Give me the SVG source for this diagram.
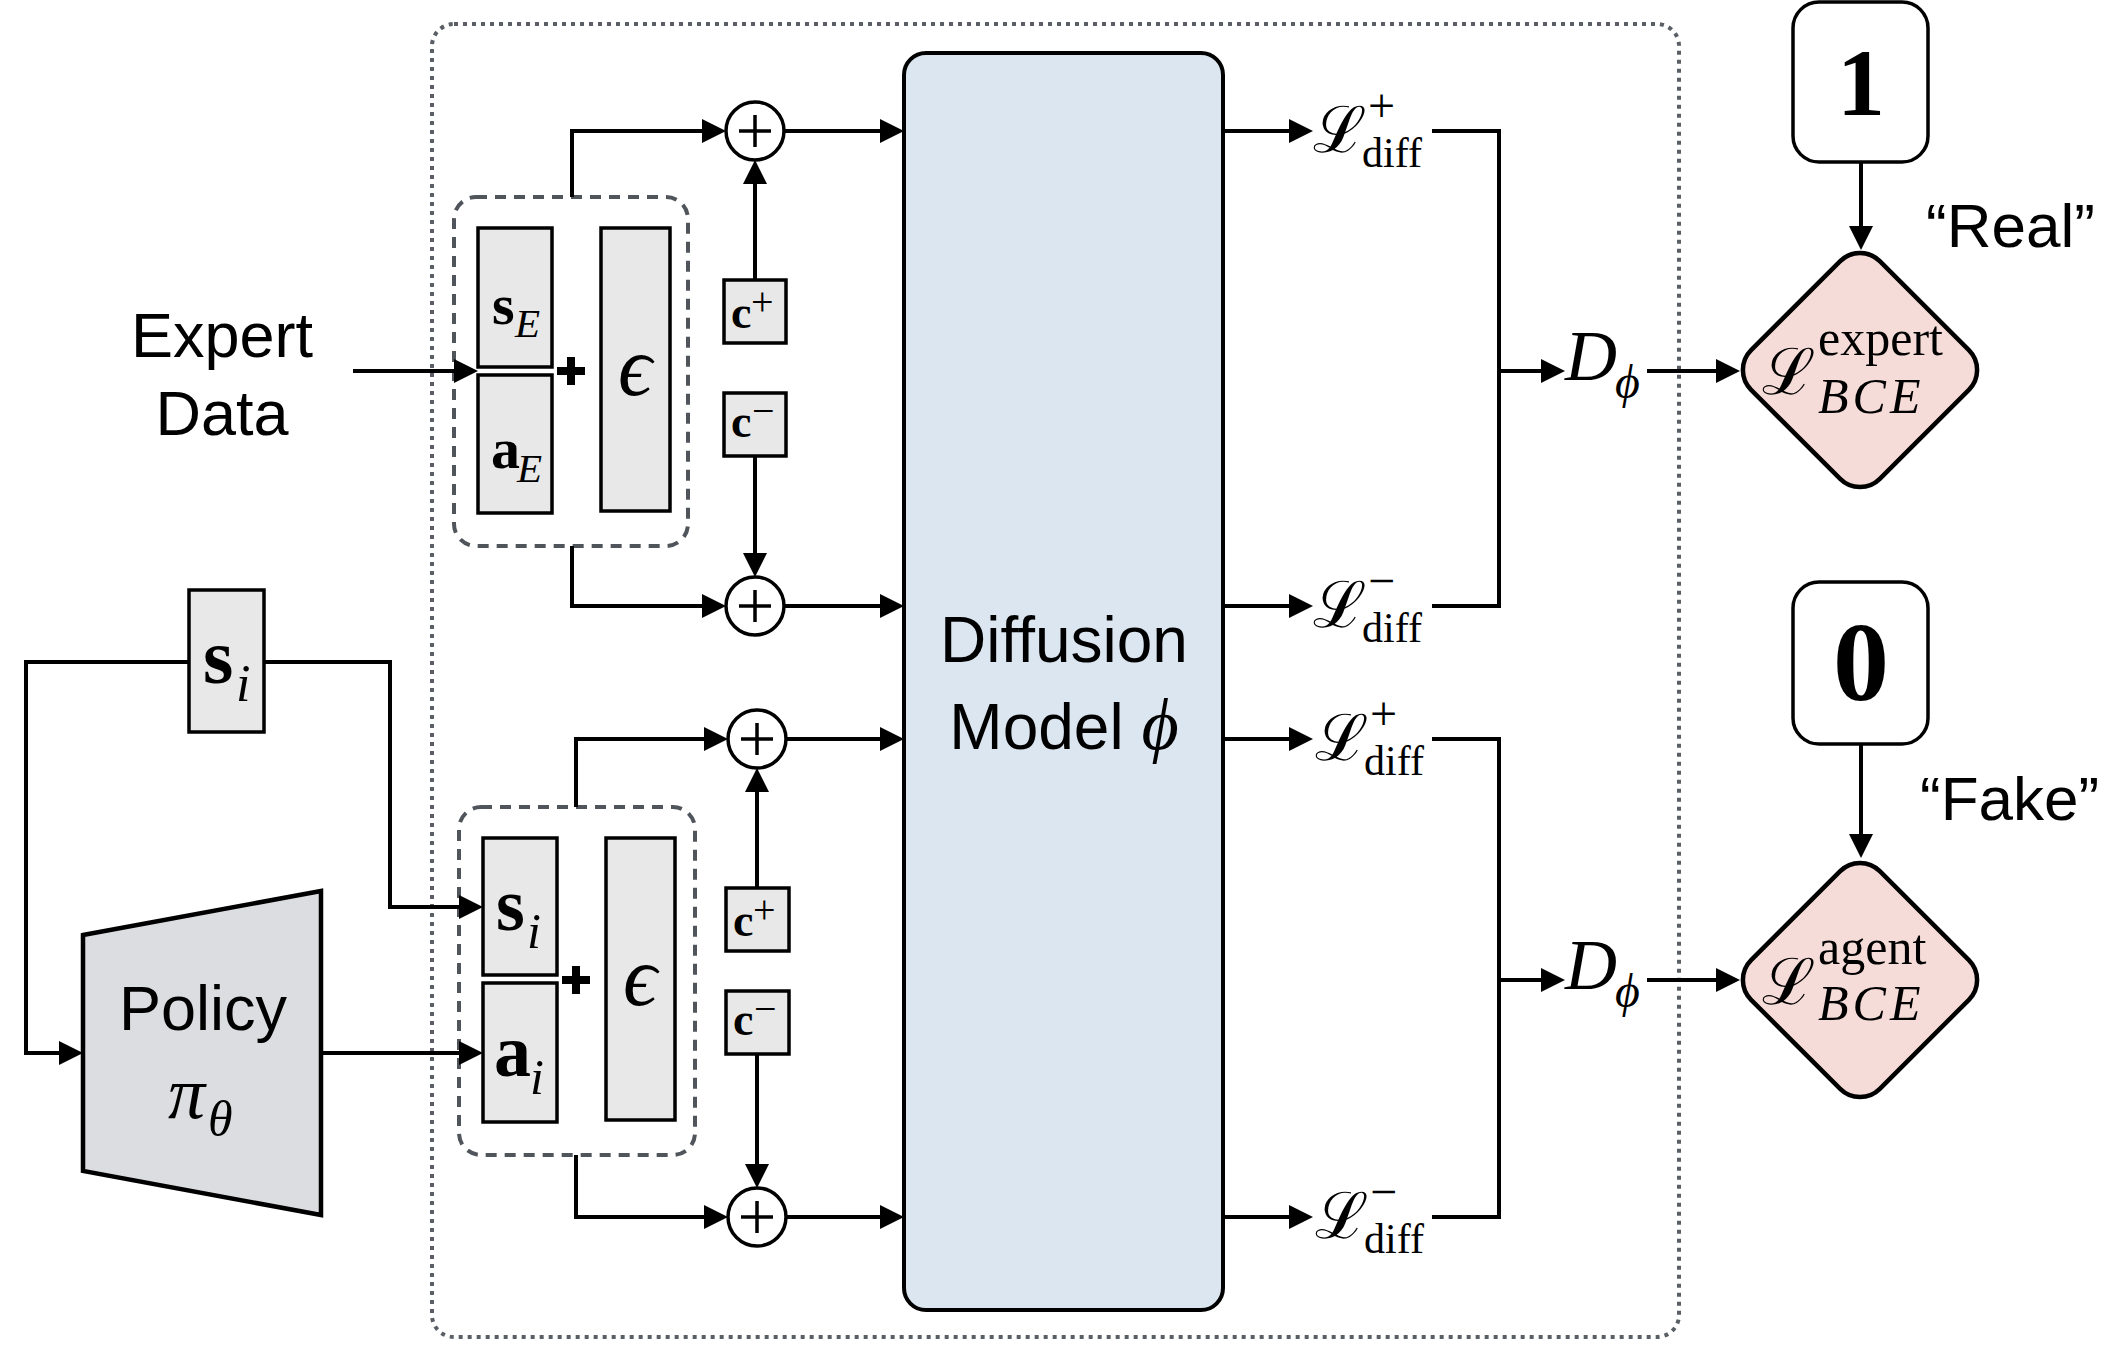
<svg xmlns="http://www.w3.org/2000/svg" width="2113" height="1347" viewBox="0 0 2113 1347">
<defs>
<marker id="ah" markerUnits="userSpaceOnUse" markerWidth="24" markerHeight="24" refX="20" refY="12" orient="auto">
<path d="M0,0 L24,12 L0,24 z" fill="#000"/>
</marker>
<style>
.sans{font-family:"Liberation Sans",Arial,sans-serif;fill:#000}
.ser{font-family:"Liberation Serif","DejaVu Serif",serif;fill:#000}
.bold{font-weight:bold}
.it{font-style:italic}
.cal{font-family:"DejaVu Serif","Liberation Serif",serif;fill:#000}
.vec{fill:#e8e8e8;stroke:#000;stroke-width:3.5}
.dash{fill:none;stroke:#50555c;stroke-width:4;stroke-dasharray:11 8}
.con{fill:none;stroke:#000;stroke-width:4}
.oplus{fill:#fff;stroke:#000;stroke-width:3.5}
.opl{stroke:#000;stroke-width:3.5}
.lbl{fill:#fff;stroke:#000;stroke-width:3.5}
.bce{fill:#f6dcd8;stroke:#000;stroke-width:4.5}
</style>
</defs>

<g id="outer-frame">
<rect x="432" y="24" width="1247" height="1313" rx="22" fill="none" stroke="#5a5f66" stroke-width="4" stroke-dasharray="4 5"/>
</g>

<g id="diffusion-model">
<rect x="904" y="53" width="319" height="1257" rx="22" fill="#dce6f0" stroke="#000" stroke-width="4"/>
<text class="sans" x="1064" y="662" font-size="64" text-anchor="middle">Diffusion</text>
<text class="sans" x="1064" y="749" font-size="64" text-anchor="middle">Model <tspan class="ser it" font-size="72">ϕ</tspan></text>
</g>

<g id="expert-data">
<text class="sans" x="222" y="357" font-size="63" text-anchor="middle">Expert</text>
<text class="sans" x="222" y="435" font-size="63" text-anchor="middle">Data</text>
</g>

<g id="expert-sample">
<rect class="dash" x="454" y="197" width="234" height="349" rx="22"/>
<rect class="vec" x="478" y="228" width="74" height="139"/>
<text class="ser bold" x="492" y="324" font-size="58">s</text>
<text class="ser it" x="515" y="337" font-size="41">E</text>
<rect class="vec" x="478" y="375" width="74" height="138"/>
<text class="ser bold" x="491" y="468" font-size="58">a</text>
<text class="ser it" x="517" y="482" font-size="41">E</text>
<path d="M571,357 V385 M557,371 H585" stroke="#000" stroke-width="8"/>
<rect class="vec" x="601" y="228" width="69" height="283"/>
<text class="ser it" x="635" y="395" font-size="84" text-anchor="middle">ϵ</text>
</g>

<g id="cplus-top">
<rect class="vec" x="724" y="280" width="62" height="63"/>
<text class="ser bold" x="731" y="328" font-size="46">c</text>
<text class="ser" x="751" y="315" font-size="40">+</text>
</g>
<g id="cminus-top">
<rect class="vec" x="724" y="393" width="62" height="63"/>
<text class="ser bold" x="731" y="437" font-size="46">c</text>
<text class="ser" x="752" y="424" font-size="40">−</text>
</g>

<g id="oplus-1"><circle class="oplus" cx="755" cy="131" r="29"/><path class="opl" d="M755,115 V147 M739,131 H771"/></g>
<g id="oplus-2"><circle class="oplus" cx="755" cy="606" r="29"/><path class="opl" d="M755,590 V622 M739,606 H771"/></g>
<g id="oplus-3"><circle class="oplus" cx="757" cy="739" r="29"/><path class="opl" d="M757,723 V755 M741,739 H773"/></g>
<g id="oplus-4"><circle class="oplus" cx="757" cy="1217" r="29"/><path class="opl" d="M757,1201 V1233 M741,1217 H773"/></g>

<g id="state-si">
<rect class="vec" x="189" y="590" width="75" height="142"/>
<text class="ser bold" x="203" y="683" font-size="78">s</text>
<text class="ser it" x="236" y="701" font-size="52">i</text>
</g>

<g id="policy">
<path d="M83,935 L321,891 L321,1215 L83,1171 Z" fill="#dcdde0" stroke="#000" stroke-width="4.5"/>
<text class="sans" x="203" y="1030" font-size="63" text-anchor="middle">Policy</text>
<text class="ser it" x="168" y="1118" font-size="74">π</text>
<text class="ser it" x="208" y="1136" font-size="50">θ</text>
</g>

<g id="agent-sample">
<rect class="dash" x="459" y="807" width="236" height="348" rx="22"/>
<rect class="vec" x="483" y="838" width="74" height="137"/>
<text class="ser bold" x="496" y="930" font-size="74">s</text>
<text class="ser it" x="527" y="948" font-size="50">i</text>
<rect class="vec" x="483" y="983" width="74" height="139"/>
<text class="ser bold" x="494" y="1076" font-size="74">a</text>
<text class="ser it" x="530" y="1094" font-size="50">i</text>
<path d="M576,966 V994 M562,980 H590" stroke="#000" stroke-width="8"/>
<rect class="vec" x="606" y="838" width="69" height="282"/>
<text class="ser it" x="640" y="1005" font-size="84" text-anchor="middle">ϵ</text>
</g>

<g id="cplus-bottom">
<rect class="vec" x="726" y="888" width="63" height="63"/>
<text class="ser bold" x="733" y="936" font-size="46">c</text>
<text class="ser" x="753" y="923" font-size="40">+</text>
</g>
<g id="cminus-bottom">
<rect class="vec" x="726" y="991" width="63" height="63"/>
<text class="ser bold" x="733" y="1035" font-size="46">c</text>
<text class="ser" x="754" y="1022" font-size="40">−</text>
</g>

<g id="loss-labels">
<text class="cal" x="1313" y="152" font-size="64">ℒ</text>
<text class="ser" x="1368" y="122" font-size="48">+</text>
<text class="ser" x="1362" y="167" font-size="42">diff</text>
<text class="cal" x="1313" y="627" font-size="64">ℒ</text>
<text class="ser" x="1368" y="597" font-size="48">−</text>
<text class="ser" x="1362" y="642" font-size="42">diff</text>
<text class="cal" x="1315" y="760" font-size="64">ℒ</text>
<text class="ser" x="1370" y="730" font-size="48">+</text>
<text class="ser" x="1364" y="775" font-size="42">diff</text>
<text class="cal" x="1315" y="1238" font-size="64">ℒ</text>
<text class="ser" x="1370" y="1208" font-size="48">−</text>
<text class="ser" x="1364" y="1253" font-size="42">diff</text>
</g>

<g id="d-phi-top">
<text class="ser it" x="1565" y="380" font-size="72">D</text>
<text class="ser it" x="1615" y="398" font-size="48">ϕ</text>
</g>
<g id="d-phi-bottom">
<text class="ser it" x="1565" y="989" font-size="72">D</text>
<text class="ser it" x="1615" y="1007" font-size="48">ϕ</text>
</g>

<g id="label-1">
<rect class="lbl" x="1793" y="2" width="135" height="160" rx="26"/>
<text class="ser bold" x="1861" y="115" font-size="96" text-anchor="middle">1</text>
</g>
<g id="label-0">
<rect class="lbl" x="1793" y="582" width="135" height="162" rx="26"/>
<text class="ser bold" x="1861" y="700" font-size="112" text-anchor="middle">0</text>
</g>

<g id="bce-expert">
<rect class="bce" x="-91" y="-91" width="182" height="182" rx="28" transform="translate(1860,370) rotate(45)"/>
<text class="cal" x="1762" y="394" font-size="64">ℒ</text>
<text class="ser" x="1818" y="355" font-size="50">expert</text>
<text class="ser it" x="1818" y="413" font-size="50" letter-spacing="4">BCE</text>
</g>
<g id="bce-agent">
<rect class="bce" x="-91" y="-91" width="182" height="182" rx="28" transform="translate(1860,980) rotate(45)"/>
<text class="cal" x="1762" y="1004" font-size="64">ℒ</text>
<text class="ser" x="1818" y="964" font-size="50">agent</text>
<text class="ser it" x="1818" y="1020" font-size="50" letter-spacing="4">BCE</text>
</g>

<g id="text-real"><text class="sans" x="1926" y="247" font-size="62">“Real”</text></g>
<g id="text-fake"><text class="sans" x="1920" y="820" font-size="62">“Fake”</text></g>

<g id="connectors">
<path class="con" d="M353,371 H474" marker-end="url(#ah)"/>
<path class="con" d="M572,197 V131 H722" marker-end="url(#ah)"/>
<path class="con" d="M572,546 V606 H722" marker-end="url(#ah)"/>
<path class="con" d="M755,280 V164" marker-end="url(#ah)"/>
<path class="con" d="M755,456 V573" marker-end="url(#ah)"/>
<path class="con" d="M784,131 H900" marker-end="url(#ah)"/>
<path class="con" d="M784,606 H900" marker-end="url(#ah)"/>

<path class="con" d="M189,662 H26 V1053 H79" marker-end="url(#ah)"/>
<path class="con" d="M264,662 H390 V907 H479" marker-end="url(#ah)"/>
<path class="con" d="M321,1053 H479" marker-end="url(#ah)"/>
<path class="con" d="M576,807 V739 H724" marker-end="url(#ah)"/>
<path class="con" d="M576,1155 V1217 H724" marker-end="url(#ah)"/>
<path class="con" d="M757,888 V772" marker-end="url(#ah)"/>
<path class="con" d="M757,1054 V1184" marker-end="url(#ah)"/>
<path class="con" d="M786,739 H900" marker-end="url(#ah)"/>
<path class="con" d="M786,1217 H900" marker-end="url(#ah)"/>

<path class="con" d="M1223,131 H1309" marker-end="url(#ah)"/>
<path class="con" d="M1223,606 H1309" marker-end="url(#ah)"/>
<path class="con" d="M1223,739 H1309" marker-end="url(#ah)"/>
<path class="con" d="M1223,1217 H1309" marker-end="url(#ah)"/>

<path class="con" d="M1432,131 H1499 V606 H1432"/>
<path class="con" d="M1499,371 H1561" marker-end="url(#ah)"/>
<path class="con" d="M1432,739 H1499 V1217 H1432"/>
<path class="con" d="M1499,980 H1561" marker-end="url(#ah)"/>

<path class="con" d="M1647,371 H1736" marker-end="url(#ah)"/>
<path class="con" d="M1647,980 H1736" marker-end="url(#ah)"/>
<path class="con" stroke-width="3.5" d="M1861,162 V246" marker-end="url(#ah)"/>
<path class="con" stroke-width="3.5" d="M1861,744 V854" marker-end="url(#ah)"/>
</g>
</svg>
